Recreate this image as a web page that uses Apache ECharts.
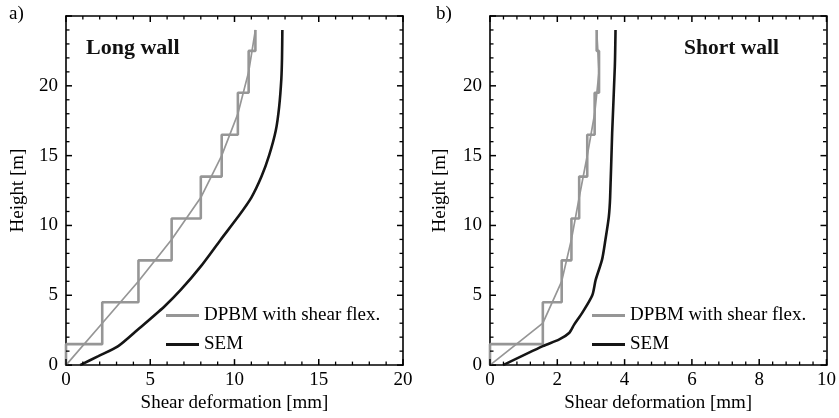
<!DOCTYPE html>
<html><head><meta charset="utf-8">
<script src="https://cdn.jsdelivr.net/npm/echarts@6/dist/echarts.min.js"></script>
<style>html,body{margin:0;padding:0;background:#fff}#c{width:839px;height:418px}</style>
</head><body><div id="c"></div>
<script>
// Story boundaries (m) and DPBM step values per story
const storyBounds = [0, 1.5, 4.5, 7.5, 10.5, 13.5, 16.5, 19.5, 22.5, 24];
const nodeHeights = [0, 3, 6, 9, 12, 15, 18, 21, 24];
const longDpbmX = [0, 2.15, 4.3, 6.27, 8.0, 9.24, 10.2, 10.84, 11.24];
const shortDpbmX = [0, 1.57, 2.13, 2.42, 2.65, 2.89, 3.11, 3.24, 3.17];
// SEM curves
const longSemH = [0, 0.64, 1.36, 2.55, 4.2, 5.4, 7.07, 8.98, 10.6, 12.0, 13.5, 15.0, 16.8, 18.5, 20.5, 22, 24];
const longSemX = [0.84, 1.92, 3.1, 4.27, 5.84, 6.82, 8.0, 9.18, 10.2, 11.0, 11.6, 12.05, 12.45, 12.65, 12.78, 12.82, 12.84];
const shortSemH = [0, 1.36, 1.84, 2.3, 2.9, 3.74, 5.0, 6.1, 7.55, 8.98, 10.6, 12.0, 16.6, 21.4, 24];
const shortSemX = [0.39, 1.57, 2.06, 2.35, 2.5, 2.74, 3.04, 3.14, 3.33, 3.43, 3.53, 3.57, 3.63, 3.71, 3.73];
const yTicks = [0, 5, 10, 15, 20];
const names = ['DPBM with shear flex.', 'SEM'];

const FONT = 'Liberation Serif';
const GRAY = '#969696', BLACK = '#151515';
const Y_MAX = 25;

function stepPath(xs) {
  const pts = [];
  for (let i = 0; i < xs.length; i++) {
    pts.push([xs[i], storyBounds[i]]);
    pts.push([xs[i], storyBounds[i + 1]]);
  }
  return pts;
}
function nodeLine(xs) { return xs.map((x, i) => [x, nodeHeights[i]]); }
function zipXY(xs, hs) { return xs.map((x, i) => [x, hs[i]]); }

const lbl = () => ({fontFamily: FONT, fontSize: 19, color: '#000'});

function mainAxis(grid, pos, max, interval, extra) {
  return Object.assign({
    gridIndex: grid, type: 'value', min: 0, max: max, interval: interval, position: pos,
    axisLine: {show: true, onZero: false, lineStyle: {color: '#000', width: 1.6}},
    axisTick: {show: false},
    splitLine: {show: false},
    axisLabel: {show: false}
  }, extra || {});
}

const xName = {name: 'Shear deformation [mm]', nameLocation: 'middle', nameGap: 21, nameTextStyle: lbl()};
const xLab = {axisLabel: Object.assign({show: true, margin: 5}, lbl())};
const yLab = (gap) => ({
  axisLabel: Object.assign({show: true, margin: 8, showMaxLabel: false,
    formatter: v => yTicks.includes(v) ? String(v) : ''}, lbl()),
  name: 'Height [m]', nameLocation: 'middle', nameGap: gap, nameTextStyle: lbl()
});

const xAxisList = [
  mainAxis(0, 'bottom', 20, 5, Object.assign({}, xLab, xName)),
  mainAxis(0, 'top', 20, 5),
  mainAxis(1, 'bottom', 10, 2, Object.assign({}, xLab, xName)),
  mainAxis(1, 'top', 10, 2)
];
const yAxisList = [
  mainAxis(0, 'left', Y_MAX, 5, yLab(38)),
  mainAxis(0, 'right', Y_MAX, 5),
  mainAxis(1, 'left', Y_MAX, 5, yLab(40)),
  mainAxis(1, 'right', Y_MAX, 5)
];

// inside tick marks on all four sides, positioned through the axes' own scales
function tickSeries(xi, yi, xMax, xMajor, xMinor) {
  const data = [];
  const nx = Math.round(xMax / xMinor);
  for (let i = 0; i <= nx; i++) {
    const v = +(i * xMinor).toFixed(6);
    const major = Math.abs(v / xMajor - Math.round(v / xMajor)) < 1e-6;
    data.push([v, 0, 0, major ? 1 : 0]);
  }
  for (let v = 0; v <= Y_MAX; v++) data.push([0, v, 1, v % 5 === 0 ? 1 : 0]);
  return {
    type: 'custom', xAxisIndex: xi, yAxisIndex: yi, silent: true, z: 5, clip: false,
    encode: {x: 0, y: 1},
    data: data,
    renderItem: function (params, api) {
      const kind = api.value(2), major = api.value(3) === 1;
      const len = major ? 6 : 3.5, lw = major ? 1.5 : 1.3;
      const style = {stroke: '#000', lineWidth: lw};
      if (kind === 0) {
        const v = api.value(0);
        const b = api.coord([v, 0]), t = api.coord([v, Y_MAX]);
        return {type: 'group', children: [
          {type: 'line', shape: {x1: b[0], y1: b[1], x2: b[0], y2: b[1] - len}, style: style},
          {type: 'line', shape: {x1: t[0], y1: t[1], x2: t[0], y2: t[1] + len}, style: style}
        ]};
      } else {
        const v = api.value(1);
        const l = api.coord([0, v]), r = api.coord([xMax, v]);
        return {type: 'group', children: [
          {type: 'line', shape: {x1: l[0], y1: l[1], x2: l[0] + len, y2: l[1]}, style: style},
          {type: 'line', shape: {x1: r[0], y1: r[1], x2: r[0] - len, y2: r[1]}, style: style}
        ]};
      }
    }
  };
}

function panelSeries(xi, yi, stepX, semX, semH) {
  return [
    {name: names[0], type: 'line', xAxisIndex: xi, yAxisIndex: yi, data: stepPath(stepX),
     symbol: 'none', lineStyle: {color: GRAY, width: 2.6}, itemStyle: {color: GRAY}},
    {name: names[0], type: 'line', xAxisIndex: xi, yAxisIndex: yi, data: nodeLine(stepX),
     symbol: 'none', lineStyle: {color: GRAY, width: 1.7}, itemStyle: {color: GRAY}},
    {name: names[1], type: 'line', xAxisIndex: xi, yAxisIndex: yi, data: zipXY(semX, semH),
     symbol: 'none', smooth: 0.25, lineStyle: {color: BLACK, width: 2.6}, itemStyle: {color: BLACK}}
  ];
}

const legendBase = () => ({orient: 'vertical', icon: 'rect', itemWidth: 33, itemHeight: 3, itemGap: 10, padding: 0,
  data: names, textStyle: {fontFamily: FONT, fontSize: 19, color: '#000'}, selectedMode: false});

const chart = echarts.init(document.getElementById('c'), null, {renderer: 'canvas'});
chart.setOption({
  animation: false,
  backgroundColor: '#fff',
  textStyle: {fontFamily: FONT},
  grid: [
    {left: 66, top: 16, width: 337, height: 350},
    {left: 490, top: 16, width: 338, height: 350}
  ],
  xAxis: xAxisList,
  yAxis: yAxisList,
  title: [
    {text: 'Long wall', left: 86, top: 37, padding: 0,
     textStyle: {fontFamily: FONT, fontWeight: 'bold', fontSize: 22, color: '#111'}},
    {text: 'Short wall', left: 684, top: 37, padding: 0,
     textStyle: {fontFamily: FONT, fontWeight: 'bold', fontSize: 21.5, color: '#111'}}
  ],
  legend: [
    Object.assign({left: 166, top: 306}, legendBase()),
    Object.assign({left: 592, top: 306}, legendBase())
  ],
  graphic: [
    {type: 'text', left: 9, top: 5, style: {text: 'a)', font: '19px "Liberation Serif"', fill: '#000'}},
    {type: 'text', left: 436, top: 5, style: {text: 'b)', font: '19px "Liberation Serif"', fill: '#000'}}
  ],
  series: panelSeries(0, 0, longDpbmX, longSemX, longSemH)
    .concat(panelSeries(2, 2, shortDpbmX, shortSemX, shortSemH))
    .concat([tickSeries(0, 0, 20, 5, 1), tickSeries(2, 2, 10, 2, 0.4)])
});
</script></body></html>
